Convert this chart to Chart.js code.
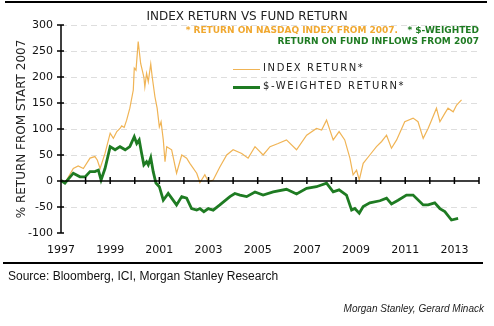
<!DOCTYPE html>
<html>
<head>
<meta charset="utf-8">
<script src="https://cdn.jsdelivr.net/npm/chart.js@4.4.1/dist/chart.umd.min.js"></script>
<style>
  body { margin: 0; background: #fff; font-family: "DejaVu Sans", sans-serif; }
  #wrap { position: relative; width: 494px; height: 326px; overflow: hidden; }
  #chart { position: absolute; left: 0; top: 0; }
  .abs { position: absolute; white-space: nowrap; }
  .rule { position: absolute; background: #000; height: 2px; }
  #title { left: 0; width: 494px; top: 9px; text-align: center; font-size: 12px; color: #222; }
  .note { right: 15px; font-size: 9px; font-weight: bold; line-height: 11px; }
  .leg { font-size: 10px; letter-spacing: 1.6px; color: #222; }
  .sw { position: absolute; width: 27px; }
  #source { left: 8px; top: 269px; font-family: "Liberation Sans", Arial, sans-serif; font-size: 12px; color: #111; }
  #credit { right: 10px; top: 303px; font-family: "Liberation Sans", Arial, sans-serif; font-size: 10px; font-style: italic; color: #222; }
</style>
</head>
<body>
<div id="wrap">
  <canvas id="chart" width="494" height="326"></canvas>
  <div class="rule" style="left:5px; top:1px; width:482px;"></div>
  <div class="abs" id="title">INDEX RETURN VS FUND RETURN</div>
  <div class="abs note" style="top:25px; color:#F0A830;">* RETURN ON NASDAQ INDEX FROM 2007.&nbsp;&nbsp; <span style="color:#1E7B22;">* $-WEIGHTED</span></div>
  <div class="abs note" style="top:36px; color:#1E7B22;">RETURN ON FUND INFLOWS FROM 2007</div>
  <div class="sw" style="left:233px; top:69px; height:1px; background:#F0B455;"></div>
  <div class="abs leg" style="left:263px; top:62px;">INDEX RETURN*</div>
  <div class="sw" style="left:233px; top:86px; height:3px; background:#1E7B22;"></div>
  <div class="abs leg" style="left:263px; top:80px;">$-WEIGHTED RETURN*</div>
  <div class="rule" style="left:3px; top:262px; width:480px;"></div>
  <div class="abs" id="source">Source: Bloomberg, ICI, Morgan Stanley Research</div>
  <div class="abs" id="credit">Morgan Stanley, Gerard Minack</div>
</div>
<script>
// values, % return
const indexYears = [1997.00, 1997.16, 1997.50, 1997.70, 1997.91, 1998.18, 1998.38, 1998.48, 1998.59, 1998.79,
  1999.00, 1999.13, 1999.27, 1999.40, 1999.47, 1999.57, 1999.67, 1999.80, 1999.94, 1999.98,
  2000.05, 2000.14, 2000.24, 2000.37, 2000.41, 2000.48, 2000.55, 2000.65, 2000.71, 2000.82,
  2000.91, 2001.00, 2001.07, 2001.16, 2001.23, 2001.30, 2001.50, 2001.70, 2001.91, 2002.11,
  2002.24, 2002.52, 2002.65, 2002.85, 2002.99, 2003.19, 2003.46, 2003.74, 2004.00, 2004.35,
  2004.61, 2004.89, 2005.22, 2005.50, 2005.83, 2006.17, 2006.58, 2006.99, 2007.39, 2007.60,
  2007.80, 2008.07, 2008.31, 2008.54, 2008.75, 2008.88, 2009.02, 2009.13, 2009.29, 2009.56,
  2009.83, 2010.04, 2010.24, 2010.44, 2010.65, 2010.98, 2011.32, 2011.52, 2011.73, 2011.93,
  2012.07, 2012.27, 2012.41, 2012.61, 2012.74, 2012.95, 2013.09, 2013.29];
const indexValues = [3, -4, 24, 29, 24, 44, 47, 40, 24, 53,
  92, 82, 95, 101, 106, 103, 117, 140, 175, 217,
  213, 268, 226, 200, 181, 207, 191, 225, 200, 162,
  140, 104, 114, 79, 37, 66, 60, 15, 50, 44,
  34, 15, -3, 12, -1, 2, 27, 50, 60, 53,
  44, 66, 50, 66, 72, 79, 60, 88, 101, 98,
  117, 79, 95, 79, 44, 12, 21, 2, 34, 50,
  66, 76, 88, 63, 79, 114, 121, 114, 82, 101,
  117, 140, 114, 130, 140, 133, 146, 156];

const fundYears = [1997.00, 1997.16, 1997.50, 1997.77, 1997.98, 1998.18, 1998.38, 1998.52, 1998.63, 1998.79,
  1999.00, 1999.20, 1999.40, 1999.61, 1999.80, 1999.98, 2000.08, 2000.18, 2000.28, 2000.37,
  2000.48, 2000.55, 2000.65, 2000.75, 2000.86, 2001.00, 2001.16, 2001.36, 2001.70, 2001.91,
  2002.11, 2002.31, 2002.52, 2002.65, 2002.81, 2002.99, 2003.19, 2003.46, 2003.87, 2004.07,
  2004.28, 2004.55, 2004.89, 2005.22, 2005.63, 2006.17, 2006.58, 2006.99, 2007.39, 2007.80,
  2008.07, 2008.31, 2008.61, 2008.82, 2008.95, 2009.13, 2009.29, 2009.56, 2009.97, 2010.24,
  2010.44, 2010.71, 2011.05, 2011.32, 2011.73, 2011.93, 2012.20, 2012.41, 2012.61, 2012.88,
  2013.15];
const fundValues = [1, -4, 15, 8, 8, 18, 18, 21, 2, 24,
  66, 60, 66, 60, 66, 85, 72, 79, 53, 31,
  37, 31, 45, 18, -4, -11, -37, -24, -46, -30,
  -33, -53, -56, -53, -59, -53, -56, -46, -30, -24,
  -27, -30, -21, -27, -21, -16, -25, -14, -11, -4,
  -21, -17, -27, -56, -53, -62, -49, -42, -38, -33,
  -44, -37, -27, -27, -46, -46, -42, -53, -59, -75,
  -72];

const yearTicks = [1997, 1999, 2001, 2003, 2005, 2007, 2009, 2011, 2013];

Chart.defaults.font.family = "'DejaVu Sans', sans-serif";
Chart.defaults.color = '#111';

const toPoints = (xs, ys) => xs.map((x, i) => ({ x: x, y: ys[i] }));

// zero line and crossing tick marks, like the original
const axisMarks = {
  id: 'axisMarks',
  afterDatasetsDraw(chart) {
    const { ctx, chartArea, scales: { x, y } } = chart;
    const y0 = y.getPixelForValue(0);
    ctx.save();
    ctx.strokeStyle = '#000';
    ctx.lineWidth = 1.5;
    ctx.beginPath();
    ctx.moveTo(chartArea.left, y0);
    ctx.lineTo(chartArea.right, y0);
    ctx.moveTo(chartArea.left, chartArea.top);
    ctx.lineTo(chartArea.left, chartArea.bottom);
    x.ticks.forEach(t => {
      const px = x.getPixelForValue(t.value);
      ctx.moveTo(px, y0 - 4);
      ctx.lineTo(px, y0 + 3);
    });
    y.ticks.forEach(t => {
      const py = y.getPixelForValue(t.value);
      ctx.moveTo(chartArea.left - 4, py);
      ctx.lineTo(chartArea.left + 3, py);
    });
    ctx.stroke();
    ctx.restore();
  }
};

new Chart(document.getElementById('chart'), {
  type: 'line',
  data: {
    datasets: [{
      label: '$-WEIGHTED RETURN*',
      data: toPoints(fundYears, fundValues),
      borderColor: '#1E7B22',
      borderWidth: 2.8,
      pointRadius: 0,
    }, {
      label: 'INDEX RETURN*',
      data: toPoints(indexYears, indexValues),
      borderColor: '#F0B455',
      borderWidth: 1.2,
      pointRadius: 0,
    }]
  },
  options: {
    responsive: false,
    animation: false,
    layout: { padding: { top: 25, right: 15, bottom: 63, left: 0 } },
    plugins: {
      legend: { display: false },
      tooltip: { enabled: false },
    },
    scales: {
      x: {
        type: 'linear',
        min: 1997,
        max: 2014,
        afterBuildTicks: scale => {
          scale.ticks = [];
          for (let v = 1997; v <= 2014; v++) scale.ticks.push({ value: v });
        },
        ticks: {
          autoSkip: false,
          maxRotation: 0,
          padding: 11,
          font: { size: 11 },
          callback: v => yearTicks.includes(v) ? String(v) : '',
        },
        grid: { display: false, drawTicks: false },
        border: { display: false },
        afterFit: scale => { scale.height = 30; },
      },
      y: {
        min: -100,
        max: 300,
        ticks: { stepSize: 50, padding: 8, font: { size: 11 } },
        grid: {
          drawTicks: false,
          color: c => (c.tick.value === 0 || c.tick.value === -100) ? 'rgba(0,0,0,0)' : '#dedede',
        },
        border: { display: false, dash: [6, 4] },
        title: {
          display: true,
          text: '% RETURN FROM START 2007',
          font: { size: 12 },
          color: '#222',
          padding: { top: 15, bottom: 0 },
        },
        afterFit: scale => { scale.width = 61; },
      }
    }
  },
  plugins: [axisMarks]
});
</script>
</body>
</html>
